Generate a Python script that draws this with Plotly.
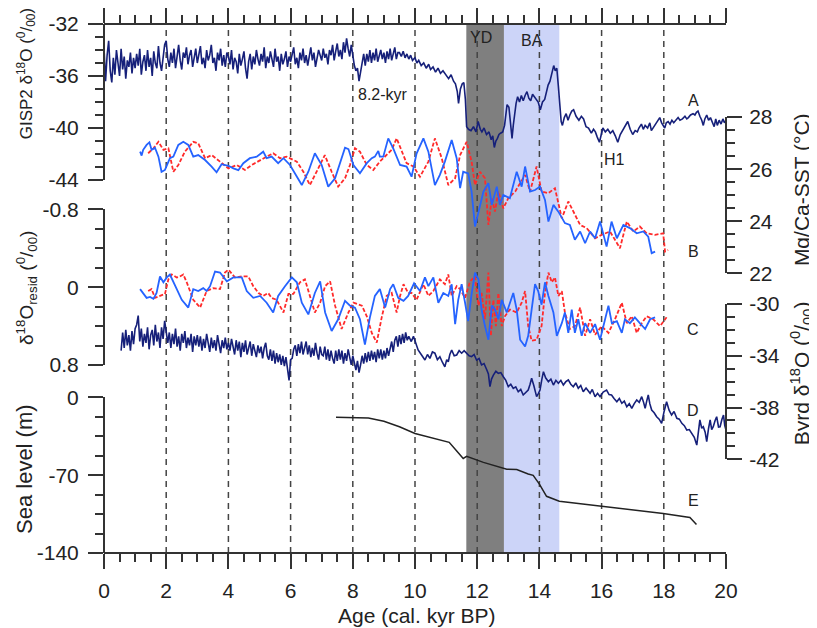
import plotly.graph_objects as go

FONT = "Arial, Liberation Sans, sans-serif"
NAVY = "#16207a"
BLUE = "#2563ff"
RED = "#ff2a2a"
AXC = "#333333"

# ---------------- data ----------------
# A: GISP2 d18O (permil), Holocene part on a 0.05-kyr grid starting at 0 kyr
A_holo_start, A_holo_step = 0.0, 0.05
A_holo_vals = [
    -33.8,-36.4,-34.4,-33.3,-35.6,-36.5,-34.6,-35.9,-34.0,-35.1,-36.0,-33.9,-35.5,-34.5,-36.2,-34.8,-35.3,-34.2,-35.8,-34.6,
    -35.4,-34.3,-35.2,-33.9,-35.9,-34.9,-34.4,-35.6,-34.0,-35.3,-34.6,-36.0,-34.1,-35.0,-35.4,-33.7,-35.0,-35.6,-34.3,-33.6,
    -33.3,-34.7,-35.3,-34.2,-35.0,-33.9,-35.4,-34.3,-33.6,-34.8,-35.5,-34.2,-34.6,-33.8,-35.1,-34.4,-34.0,-35.3,-34.6,-33.9,
    -35.0,-34.2,-33.7,-35.1,-34.6,-35.4,-34.0,-34.8,-34.4,-33.6,-35.0,-34.6,-35.6,-34.2,-34.8,-33.9,-35.2,-34.4,-35.3,-34.2,
    -34.5,-35.1,-34.0,-35.5,-34.6,-34.9,-35.8,-34.3,-35.2,-34.7,-34.1,-35.4,-36.2,-34.9,-34.3,-35.5,-34.5,-35.1,-34.0,-34.7,
    -35.2,-34.3,-34.9,-33.8,-35.4,-34.5,-35.0,-34.1,-34.7,-35.3,-33.9,-34.9,-34.5,-35.6,-34.3,-35.1,-34.7,-34.1,-35.3,-34.5,
    -34.9,-34.4,-33.8,-35.1,-34.6,-35.4,-34.2,-34.8,-33.9,-35.0,-34.4,-35.2,-34.6,-33.8,-34.8,-34.2,-35.3,-34.6,-34.0,-34.4,
    -34.8,-33.9,-34.6,-34.3,-35.1,-34.0,-34.4,-33.6,-34.8,-34.1,-33.5,-34.5,-34.0,-34.7,-33.4,-34.2,-33.1,-33.9,-34.5,-33.6,
    -34.6,-35.2,-35.6,-35.4,-36.4,-35.7,-34.8,-34.3,-35.2,-34.3,-34.9,-34.0,-35.0,-34.2,-34.8,-33.9,-34.9,-34.4,-34.0,-34.7,
    -34.2,-35.0,-34.1,-34.7,-33.9,-34.8,-34.4,-33.8,-34.7,-34.2,
]
# A: deglacial part (age kyr, d18O)
A_degl = [
    (9.5,-34.2),(9.56,-34.5),(9.62,-34.1),(9.68,-34.6),(9.74,-34.3),(9.8,-34.7),(9.86,-34.4),(9.92,-34.8),(10.0,-34.6),
    (10.06,-35.0),(10.12,-34.8),(10.2,-35.2),(10.28,-35.0),(10.36,-35.4),(10.44,-35.1),(10.5,-35.5),(10.58,-35.3),
    (10.66,-35.7),(10.74,-35.4),(10.82,-35.8),(10.9,-35.6),(11.0,-35.9),(11.08,-36.2),(11.16,-35.9),(11.24,-36.4),
    (11.3,-36.6),(11.36,-37.2),(11.4,-38.1),(11.46,-37.0),(11.52,-36.6),(11.57,-36.5),(11.62,-37.8),(11.66,-39.9),
    (11.72,-40.1),(11.8,-40.2),(11.88,-39.9),(11.96,-40.3),(12.03,-39.5),(12.1,-40.1),(12.15,-40.3),(12.22,-40.0),
    (12.3,-40.5),(12.38,-40.3),(12.45,-40.9),(12.5,-40.6),(12.55,-41.5),(12.6,-41.0),(12.65,-40.8),(12.7,-40.5),
    (12.75,-40.4),(12.82,-40.3),(12.88,-39.8),(12.92,-38.9),(12.96,-38.2),(13.02,-38.4),(13.08,-39.6),(13.12,-40.8),
    (13.16,-39.8),(13.2,-39.0),(13.25,-38.1),(13.3,-37.6),(13.36,-38.0),(13.42,-37.5),(13.48,-37.9),(13.54,-37.5),
    (13.6,-37.2),(13.66,-37.7),(13.72,-37.9),(13.78,-37.4),(13.84,-37.6),(13.9,-37.8),(13.96,-38.0),(14.03,-38.6),
    (14.1,-38.0),(14.17,-37.8),(14.22,-37.3),(14.28,-36.7),(14.34,-36.4),(14.4,-35.9),(14.46,-35.2),(14.51,-35.6),
    (14.56,-35.4),(14.61,-36.8),(14.66,-38.8),(14.7,-39.5),(14.74,-39.8),(14.8,-39.2),(14.86,-38.9),(14.92,-39.4),
    (14.98,-39.0),(15.04,-38.7),(15.1,-38.6),(15.18,-39.1),(15.27,-39.4),(15.35,-39.1),(15.42,-39.3),(15.5,-39.9),
    (15.58,-40.0),(15.67,-40.4),(15.74,-40.1),(15.8,-40.3),(15.86,-40.7),(15.93,-41.1),(15.98,-40.6),(16.04,-40.0),
    (16.12,-40.3),(16.2,-40.1),(16.28,-40.4),(16.36,-40.2),(16.44,-40.6),(16.52,-41.1),(16.6,-40.5),(16.68,-40.2),
    (16.76,-39.9),(16.84,-39.5),(16.92,-40.1),(17.0,-40.5),(17.08,-40.2),(17.15,-40.3),(17.2,-40.0),(17.28,-39.7),
    (17.34,-40.1),(17.4,-39.8),(17.48,-40.0),(17.55,-39.6),(17.6,-40.2),(17.68,-39.9),(17.76,-39.7),(17.82,-39.4),
    (17.87,-39.2),(17.93,-39.6),(17.98,-39.8),(18.03,-40.0),(18.08,-39.6),(18.14,-39.5),(18.2,-39.7),(18.26,-39.4),
    (18.32,-39.6),(18.4,-39.4),(18.46,-39.2),(18.52,-39.4),(18.6,-39.3),(18.68,-39.1),(18.74,-39.3),(18.79,-39.2),
    (18.86,-39.0),(18.94,-38.9),(19.0,-39.0),(19.05,-38.8),(19.1,-38.7),(19.16,-39.1),(19.22,-39.4),(19.27,-39.8),
    (19.32,-39.3),(19.38,-39.0),(19.44,-39.4),(19.5,-39.2),(19.56,-39.6),(19.62,-39.9),(19.67,-39.3),(19.72,-39.8),
    (19.78,-39.4),(19.84,-39.7),(19.9,-39.3),(19.95,-39.6),(20.0,-39.4),
]

# B: Mg/Ca-SST (deg C), solid blue core and dashed red core
B_blue_age = [1.16,1.21,1.26,1.37,1.46,1.53,1.64,1.75,1.85,1.96,2.12,2.23,2.39,2.55,2.71,2.87,3.03,3.25,3.46,3.62,
    3.78,4.0,4.16,4.32,4.48,4.69,4.91,5.12,5.23,5.39,5.6,5.77,5.98,6.36,6.57,6.78,7.0,7.21,7.43,7.75,
    7.86,8.02,8.23,8.45,8.61,8.71,8.82,8.87,8.98,9.14,9.3,9.52,9.73,9.89,10.05,10.27,10.43,10.64,10.8,10.96,
    11.18,11.34,11.45,11.55,11.71,11.82,11.93,12.04,12.2,12.36,12.47,12.63,12.73,12.84,13.05,13.27,13.43,13.54,13.7,13.86,
    14.02,14.18,14.29,14.45,14.61,14.82,14.98,15.14,15.31,15.47,15.63,15.79,15.95,16.16,16.32,16.49,16.7,16.91,17.13,17.34,
    17.5,17.61,17.72]
B_blue_sst = [26.67,26.52,26.74,26.93,27.03,26.74,26.82,26.48,25.9,25.97,26.42,26.48,26.93,27.05,26.93,26.48,26.54,26.35,26.1,25.88,
    26.19,26.13,26.03,25.96,26.23,26.42,26.48,26.67,26.42,26.48,26.23,26.42,26.16,25.39,25.9,26.61,26.16,25.33,25.65,26.82,
    26.77,26.16,25.84,26.23,26.42,26.48,26.7,26.48,26.48,27.18,26.8,26.16,26.1,25.71,26.6,27.18,26.67,25.39,25.78,26.29,
    27.12,26.42,25.27,25.9,25.84,25.14,23.8,24.37,25.14,25.46,24.63,25.33,24.63,25.01,24.89,25.9,25.33,26.1,25.14,25.2,
    25.33,24.82,23.99,24.63,24.37,23.93,23.86,23.29,23.61,23.16,23.61,23.35,23.99,23.03,23.99,23.35,23.86,23.74,23.54,23.61,
    23.41,22.78,22.84]
B_red_age = [1.42,1.59,1.75,1.91,2.07,2.23,2.39,2.6,2.87,3.03,3.25,3.46,3.73,4.0,4.27,4.53,4.75,5.02,5.23,5.44,
    5.66,5.87,6.2,6.41,6.62,6.89,7.1,7.32,7.53,7.75,7.91,8.07,8.23,8.45,8.66,8.87,9.09,9.25,9.41,9.57,
    9.73,9.95,10.16,10.43,10.64,10.86,11.07,11.29,11.45,11.66,11.82,11.93,12.09,12.25,12.36,12.47,12.57,12.68,12.84,13.0,
    13.22,13.38,13.54,13.7,13.91,14.07,14.29,14.5,14.72,14.93,15.14,15.31,15.52,15.79,16.0,16.27,16.59,16.81,17.02,17.23,
    17.45,17.72,17.98,18.04,18.14]
B_red_sst = [26.61,26.8,27.05,26.74,26.8,25.9,26.16,26.67,27.05,26.99,26.42,26.54,26.29,26.03,26.16,25.97,26.16,26.35,26.48,26.61,
    26.42,26.48,26.29,25.9,25.39,26.03,26.54,25.9,25.33,25.65,26.16,26.8,26.67,26.16,25.97,26.29,26.54,26.74,27.18,26.67,
    26.23,26.1,25.71,26.29,27.18,26.42,25.39,25.65,26.54,27.05,26.29,25.39,25.9,25.65,23.86,24.89,24.37,25.14,24.5,24.89,
    25.14,25.46,25.78,25.14,26.1,25.14,25.08,25.27,24.12,24.76,24.24,23.86,23.74,23.35,23.48,23.61,22.97,23.99,23.61,23.8,
    23.54,23.48,23.54,22.84,22.9]

# C: d18O residual (permil)
C_blue_age = [1.16,1.26,1.37,1.48,1.59,1.69,1.8,1.91,2.02,2.12,2.23,2.34,2.5,2.71,2.87,3.03,3.19,3.3,3.41,3.57,
    3.73,3.95,4.16,4.43,4.59,4.8,5.02,5.23,5.44,5.6,5.82,6.04,6.2,6.36,6.57,6.78,6.95,7.11,7.32,7.53,
    7.75,7.91,8.07,8.23,8.39,8.55,8.71,8.87,9.04,9.2,9.3,9.46,9.63,9.78,9.97,10.16,10.32,10.43,10.59,10.75,
    10.91,11.07,11.18,11.29,11.39,11.5,11.61,11.71,11.82,11.93,12.04,12.14,12.25,12.36,12.47,12.57,12.68,12.79,12.95,13.05,
    13.16,13.27,13.38,13.54,13.64,13.75,13.86,13.96,14.07,14.18,14.29,14.45,14.56,14.72,14.82,14.93,15.04,15.14,15.25,15.36,
    15.47,15.63,15.79,15.95,16.06,16.22,16.33,16.49,16.65,16.75,16.91,17.07,17.23,17.4,17.56,17.72]
C_blue_res = [0.02,0.06,0.11,0.10,0.12,0.06,-0.11,-0.05,-0.10,-0.13,-0.06,0.02,0.13,0.21,0.02,0.04,0.01,0.04,-0.01,-0.16,
    -0.15,-0.06,-0.10,-0.10,0.04,0.11,0.09,0.16,0.26,0.09,-0.01,-0.10,-0.05,0.16,0.28,0.06,-0.06,0.26,0.45,0.33,
    0.14,0.19,0.21,0.33,0.59,0.31,0.09,0.02,0.21,0.02,-0.03,0.11,0.14,0.09,-0.04,0.04,-0.10,-0.01,-0.10,0.16,
    0.06,0.09,-0.03,0.38,0.13,-0.03,0.16,0.35,0.07,-0.15,-0.08,0.23,0.40,0.54,0.19,0.23,0.33,0.13,0.26,0.16,
    0.06,0.23,0.54,0.61,0.50,0.23,-0.03,0.04,0.18,-0.05,0.09,0.26,0.50,0.37,0.26,0.47,0.23,0.47,0.33,0.50,
    0.37,0.47,0.38,0.54,0.40,0.19,0.37,0.35,0.47,0.33,0.37,0.31,0.37,0.43,0.33,0.31]
C_red_age = [1.42,1.53,1.64,1.8,1.96,2.07,2.18,2.34,2.44,2.55,2.66,2.87,3.09,3.3,3.51,3.73,3.89,4.0,4.21,4.43,
    4.64,4.8,4.97,5.12,5.28,5.39,5.55,5.77,5.93,6.09,6.3,6.46,6.62,6.78,6.95,7.11,7.27,7.43,7.64,7.86,
    8.02,8.29,8.45,8.61,8.77,8.93,9.09,9.25,9.41,9.52,9.63,9.78,9.89,10.05,10.27,10.43,10.59,10.8,10.96,11.07,
    11.18,11.34,11.45,11.61,11.77,11.93,12.04,12.14,12.25,12.36,12.44,12.52,12.6,12.68,12.79,12.89,13.05,13.27,13.43,13.54,
    13.64,13.75,13.91,14.07,14.18,14.29,14.4,14.5,14.61,14.72,14.82,14.98,15.14,15.31,15.47,15.63,15.79,16.0,16.22,16.43,
    16.65,16.81,16.97,17.13,17.29,17.45,17.66,17.88,18.09]
C_red_res = [0.04,0.02,0.11,0.09,0.07,-0.08,-0.13,-0.10,-0.11,-0.13,-0.05,0.13,0.21,0.04,0.01,0.02,-0.15,-0.18,-0.10,-0.11,
    -0.11,-0.01,0.06,0.09,0.06,0.11,0.13,0.26,0.07,0.07,-0.05,-0.08,0.09,0.26,0.16,-0.01,-0.06,0.19,0.43,0.26,
    0.16,0.19,0.30,0.47,0.57,0.31,0.09,0.06,0.26,0.09,-0.03,0.06,0.06,0.13,-0.03,0.09,0.04,-0.08,-0.03,-0.13,
    0.09,-0.01,0.02,0.11,-0.06,-0.11,0.19,0.06,0.33,-0.15,0.50,0.13,0.40,0.06,0.40,0.30,0.23,0.26,0.16,0.04,
    0.40,0.55,0.54,0.40,0.06,-0.15,-0.05,-0.10,0.09,0.04,0.26,0.43,0.40,0.21,0.50,0.33,0.49,0.40,0.47,0.33,
    0.16,0.37,0.30,0.47,0.37,0.30,0.33,0.40,0.31]

# D: Byrd d18O (permil), Holocene part on a 0.05-kyr grid starting at 0.55 kyr
D_holo_start, D_holo_step = 0.55, 0.05
D_holo_vals = [
    -33.6,-32.2,-33.4,-32.0,-33.2,-32.4,-33.6,-32.1,-33.1,-31.9,
    -31.6,-30.9,-32.9,-31.9,-33.3,-32.3,-33.0,-31.8,-33.5,-32.4,-32.0,-33.2,-31.6,-32.9,-32.2,-33.4,-31.8,-32.7,-31.3,-32.3,
    -33.0,-32.2,-33.4,-32.3,-33.1,-31.9,-33.3,-32.5,-33.6,-32.3,-33.0,-32.1,-33.4,-32.6,-33.2,-32.3,-33.7,-32.5,-33.2,-32.4,
    -33.3,-32.5,-33.6,-32.7,-33.4,-32.3,-33.1,-33.7,-32.6,-33.4,-32.8,-33.6,-32.4,-33.2,-33.8,-32.8,-33.4,-32.6,-33.5,-33.0,
    -33.6,-32.7,-33.4,-33.9,-32.8,-33.6,-32.9,-34.1,-33.0,-33.7,-32.8,-33.9,-33.4,-32.9,-34.0,-33.1,-33.6,-34.1,-33.2,-33.8,
    -33.3,-34.2,-33.4,-33.0,-34.0,-34.3,-33.5,-34.4,-33.6,-34.6,-33.8,-34.5,-33.9,-34.7,-34.0,-34.8,-34.1,-35.2,-35.9,-34.3,
    -34.2,-33.5,-33.2,-34.0,-33.1,-33.8,-32.9,-33.9,-33.3,-32.9,-33.9,-33.2,-34.1,-33.4,-34.0,-33.0,-33.8,-34.3,-33.3,-33.9,
    -34.0,-33.3,-34.3,-33.5,-34.4,-33.6,-34.2,-34.6,-33.6,-34.4,-33.5,-34.3,-33.6,-34.6,-33.8,-34.4,-33.5,-34.2,-34.7,-34.0,
    -34.5,-35.1,-34.4,-35.3,-34.7,-34.0,-34.6,-33.8,-34.5,-33.7,-34.4,-33.6,-34.3,-33.7,-34.5,-33.5,-34.2,-33.5,-34.3,-33.6,
    -34.2,-33.4,-34.0,-33.3,-32.9,-33.7,-32.8,-32.5,-33.3,-32.4,-33.1,-32.3,-33.0,-32.2,-32.8,-32.5,
]
D_degl = [
    (9.88,-32.9),(9.95,-32.5),(10.02,-33.0),(10.1,-33.55),(10.2,-33.9),(10.32,-34.33),(10.4,-33.9),(10.48,-34.2),
    (10.56,-33.7),(10.64,-33.8),(10.72,-34.3),(10.8,-34.07),(10.88,-34.5),(10.96,-34.85),(11.02,-34.3),(11.07,-34.46),
    (11.12,-33.9),(11.18,-33.55),(11.26,-34.0),(11.34,-33.94),(11.42,-33.6),(11.5,-33.8),(11.58,-33.6),(11.66,-33.8),
    (11.74,-34.0),(11.82,-34.07),(11.9,-33.9),(11.98,-34.33),(12.06,-34.2),(12.14,-34.71),(12.22,-34.6),(12.31,-35.1),
    (12.36,-35.4),(12.41,-36.39),(12.46,-35.8),(12.52,-35.49),(12.6,-35.2),(12.68,-35.36),(12.76,-35.3),(12.84,-35.62),
    (12.92,-35.9),(13.0,-36.39),(13.08,-36.2),(13.16,-36.52),(13.24,-36.4),(13.32,-36.78),(13.4,-36.6),(13.48,-37.03),
    (13.56,-36.8),(13.64,-36.65),(13.7,-36.2),(13.75,-35.74),(13.82,-36.3),(13.91,-37.16),(13.97,-36.9),(14.02,-36.65),
    (14.08,-35.8),(14.13,-35.23),(14.2,-35.7),(14.29,-36.0),(14.37,-35.8),(14.45,-36.26),(14.53,-35.9),(14.61,-36.13),
    (14.69,-35.9),(14.77,-36.26),(14.85,-36.0),(14.93,-35.87),(15.01,-36.2),(15.09,-36.39),(15.17,-36.1),(15.25,-36.52),
    (15.33,-36.3),(15.41,-36.78),(15.5,-36.5),(15.63,-36.9),(15.7,-36.6),(15.79,-37.16),(15.87,-36.9),(15.95,-37.16),
    (16.05,-36.8),(16.16,-36.65),(16.24,-37.0),(16.32,-37.03),(16.4,-37.3),(16.49,-37.55),(16.57,-37.3),(16.65,-37.67),
    (16.73,-37.5),(16.81,-37.94),(16.89,-37.7),(16.97,-38.06),(17.05,-37.7),(17.13,-37.42),(17.21,-37.6),(17.29,-37.16),
    (17.35,-37.6),(17.4,-38.06),(17.45,-37.5),(17.5,-37.03),(17.55,-37.7),(17.61,-38.19),(17.69,-38.4),(17.77,-38.71),
    (17.85,-38.9),(17.93,-39.22),(18.01,-38.3),(18.09,-37.55),(18.17,-38.2),(18.25,-38.58),(18.33,-38.3),(18.42,-38.83),
    (18.5,-38.9),(18.58,-39.22),(18.66,-39.4),(18.74,-39.74),(18.82,-39.7),(18.9,-39.99),(18.98,-40.3),(19.06,-40.9),
    (19.11,-39.8),(19.16,-38.96),(19.22,-39.6),(19.27,-39.48),(19.33,-39.9),(19.38,-40.64),(19.44,-39.6),(19.49,-38.96),
    (19.54,-39.7),(19.59,-39.48),(19.65,-39.0),(19.7,-38.71),(19.76,-39.5),(19.81,-39.48),(19.87,-38.9),(19.92,-38.58),
    (19.96,-39.4),(20.0,-39.74),
]

# E: sea level (m)
E_curve = [(7.46,-18),(8.5,-18.6),(9.0,-21.5),(9.5,-26.5),(10.0,-32.5),(10.5,-36),(11.1,-40.5),(11.3,-47),
           (11.55,-55),(11.66,-53),(12.2,-58.5),(12.95,-64.6),(13.27,-65),(13.64,-69),(13.8,-70.2),(14.0,-78),
           (14.23,-89),(14.64,-93.4),(16.0,-97.9),(17.98,-104.5),(18.84,-108.1),(19.05,-114.4)]

# climate intervals (kyr)
YD = (11.65, 12.86)
BA = (12.86, 14.64)
dashed_ages = [2, 4, 6, 8, 10, 12, 14, 16, 18]

# ---------------- assemble ----------------
A_age = [round(A_holo_start + i * A_holo_step, 3) for i in range(len(A_holo_vals))] + [p[0] for p in A_degl]
A_val = A_holo_vals + [p[1] for p in A_degl]
D_age = [round(D_holo_start + i * D_holo_step, 3) for i in range(len(D_holo_vals))] + [p[0] for p in D_degl]
D_val = D_holo_vals + [p[1] for p in D_degl]

fig = go.Figure()
fig.add_trace(go.Scatter(x=A_age, y=A_val, mode="lines", line=dict(color=NAVY, width=1.6), yaxis="y"))
fig.add_trace(go.Scatter(x=B_red_age, y=B_red_sst, mode="lines", line=dict(color=RED, width=1.8, dash="4px,2px"), yaxis="y2"))
fig.add_trace(go.Scatter(x=B_blue_age, y=B_blue_sst, mode="lines", line=dict(color=BLUE, width=1.8), yaxis="y2"))
fig.add_trace(go.Scatter(x=C_red_age, y=C_red_res, mode="lines", line=dict(color=RED, width=1.8, dash="4px,2px"), yaxis="y3"))
fig.add_trace(go.Scatter(x=C_blue_age, y=C_blue_res, mode="lines", line=dict(color=BLUE, width=1.8), yaxis="y3"))
fig.add_trace(go.Scatter(x=D_age, y=D_val, mode="lines", line=dict(color=NAVY, width=1.6), yaxis="y4"))
fig.add_trace(go.Scatter(x=[p[0] for p in E_curve], y=[p[1] for p in E_curve], mode="lines",
                         line=dict(color="#222222", width=1.5), yaxis="y5"))
# invisible trace to activate the top axis
fig.add_trace(go.Scatter(x=[0, 20], y=[-38, -38], mode="lines", line=dict(width=0), opacity=0,
                         xaxis="x2", yaxis="y", hoverinfo="skip"))

shapes = [
    dict(type="rect", xref="x", yref="paper", x0=YD[0], x1=YD[1], y0=0, y1=1,
         fillcolor="#7f7f7f", line=dict(width=0), layer="below"),
    dict(type="rect", xref="x", yref="paper", x0=BA[0], x1=BA[1], y0=0, y1=1,
         fillcolor="#ccd4f8", line=dict(width=0), layer="below"),
]
for a in dashed_ages:
    shapes.append(dict(type="line", xref="x", yref="paper", x0=a, x1=a, y0=0, y1=1,
                       line=dict(color="#444444", width=1.5, dash="6px,5px"), layer="below"))


def yax(domain, rng, major, minor, side, label_fmt):
    return dict(
        domain=domain, range=rng, anchor="free", position=0 if side == "left" else 1, side=side,
        automargin=False, autoshift=False,
        showline=True, linecolor=AXC, linewidth=2, ticks="outside", ticklen=15, tickwidth=2, tickcolor=AXC,
        tickmode="array", tickvals=major, ticktext=[label_fmt(v) for v in major],
        minor=dict(tickmode="array", tickvals=minor, ticks="outside", ticklen=8, tickwidth=2, tickcolor=AXC),
        showgrid=False, zeroline=False, tickfont=dict(family=FONT, size=21, color="#222"),
        ticklabelstandoff=5 if side == "left" else 3,
    )


fmt_int = lambda v: str(int(v))
fmt_dec = lambda v: "0" if v == 0 else ("%.1f" % v)

fig.update_layout(
    width=809, height=620,
    margin=dict(l=96, r=91, t=16, b=75, autoexpand=False),
    paper_bgcolor="white", plot_bgcolor="rgba(0,0,0,0)",
    showlegend=False,
    font=dict(family=FONT, color="#222"),
    xaxis=dict(domain=[0, 1], range=[0, 20], anchor="free", position=0, side="bottom", automargin=False,
               showline=True, linecolor=AXC, linewidth=2, ticks="outside", ticklen=15, tickwidth=2, tickcolor=AXC,
               tickmode="linear", tick0=0, dtick=2, ticklabelstandoff=4,
               minor=dict(tickmode="linear", tick0=0, dtick=0.5, ticks="outside", ticklen=8, tickwidth=2, tickcolor=AXC),
               showgrid=False, zeroline=False, tickfont=dict(family=FONT, size=21, color="#222")),
    xaxis2=dict(overlaying="x", range=[0, 20], anchor="free", position=1, side="top", automargin=False,
                showline=True, linecolor=AXC, linewidth=2, ticks="outside", ticklen=15, tickwidth=2, tickcolor=AXC,
                tickmode="linear", tick0=0, dtick=2, showticklabels=False,
                minor=dict(tickmode="linear", tick0=0, dtick=0.5, ticks="outside", ticklen=8, tickwidth=2, tickcolor=AXC),
                showgrid=False, zeroline=False),
    yaxis=yax([0.7051, 1.0], [-44, -32], [-32, -36, -40, -44], [-33, -34, -35, -37, -38, -39, -41, -42, -43], "left", fmt_int),
    yaxis2=yax([0.5284, 0.8242], [22, 28], [22, 24, 26, 28],
               [22.5, 23, 23.5, 24.5, 25, 25.5, 26.5, 27, 27.5], "right", fmt_int),
    yaxis3=yax([0.3554, 0.6497], [0.8, -0.8], [-0.8, 0, 0.8], [-0.6, -0.4, -0.2, 0.2, 0.4, 0.6], "left", fmt_dec),
    yaxis4=yax([0.1771, 0.4707], [-42, -30], [-30, -34, -38, -42],
               [-31, -32, -33, -35, -36, -37, -39, -40, -41], "right", fmt_int),
    yaxis5=yax([0.0, 0.2943], [-140, 0], [0, -70, -140], [-17.5, -35, -52.5, -87.5, -105, -122.5], "left", fmt_int),
    shapes=shapes,
)

ann_font = dict(family=FONT, size=16, color="#222")
labels = [
    ("A", 18.94, 0.856), ("H1", 16.4, 0.744), ("B", 18.94, 0.570), ("C", 18.94, 0.422),
    ("D", 18.94, 0.270), ("E", 18.94, 0.100), ("YD", 12.12, 0.974), ("BA", 13.76, 0.969),
    ("8.2-kyr", 8.96, 0.866),
]
annotations = [dict(text=t, x=x, y=y, xref="x", yref="paper", showarrow=False, font=ann_font,
                    xanchor="center", yanchor="middle") for t, x, y in labels]

titles = [
    ("GISP2 δ<sup>18</sup>O (<sup>0</sup>/<sub>00</sub>)", -0.1254, 0.905, 17),
    ("δ<sup>18</sup>O<sub>resid</sub> (<sup>0</sup>/<sub>00</sub>)", -0.1238, 0.501, 19),
    ("Sea level (m)", -0.127, 0.1588, 22),
    ("Mg/Ca-SST (°C)", 1.1206, 0.686, 21),
    ("Byrd δ<sup>18</sup>O (<sup>0</sup>/<sub>00</sub>)", 1.1206, 0.340, 21),
]
for t, x, y, sz in titles:
    annotations.append(dict(text=t, x=x, y=y, xref="paper", yref="paper", showarrow=False,
                            font=dict(family=FONT, size=sz, color="#222"), textangle=-90,
                            xanchor="center", yanchor="middle"))
annotations.append(dict(text="Age (cal. kyr BP)", x=0.503, y=-0.119, xref="paper", yref="paper",
                        showarrow=False, font=dict(family=FONT, size=21, color="#222"),
                        xanchor="center", yanchor="middle"))
fig.update_layout(annotations=annotations)

fig.write_html("out.html")
